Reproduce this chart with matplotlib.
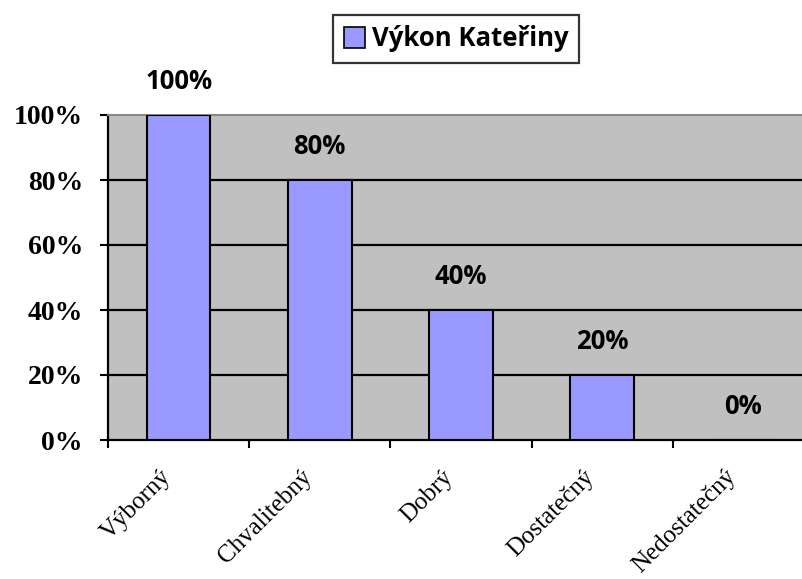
import matplotlib
matplotlib.use("Agg")
import matplotlib.pyplot as plt
from matplotlib.patches import Patch

categories = ["Výborný", "Chvalitebný", "Dobrý", "Dostatečný", "Nedostatečný"]
values = [1.0, 0.8, 0.4, 0.2, 0.0]
value_labels = ["100%", "80%", "40%", "20%", "0%"]
yticks = [0.0, 0.2, 0.4, 0.6, 0.8, 1.0]
ytick_labels = ["0%", "20%", "40%", "60%", "80%", "100%"]
series_name = "Výkon Kateřiny"

fig = plt.figure(figsize=(8.03, 5.79), dpi=100)
ax = fig.add_axes([108/803, 139/579, 706/803, 325/579])
ax.set_facecolor("#C0C0C0")

x = list(range(len(categories)))
ax.bar(x, values, width=0.45, color="#9999FF", edgecolor="black", linewidth=1.5, zorder=3)

ax.set_xlim(-0.5, len(categories) - 0.5)
ax.set_ylim(0, 1.0)

for yv in yticks[1:-1]:
    ax.axhline(yv, color="black", linewidth=1.6, zorder=1)

ax.spines["top"].set_color("#888888")
ax.spines["top"].set_linewidth(1.5)
ax.spines["right"].set_visible(False)
ax.spines["left"].set_linewidth(1.6)
ax.spines["bottom"].set_linewidth(1.6)

ax.set_yticks(yticks)
ax.set_yticklabels(ytick_labels)
for t in ax.get_yticklabels():
    t.set_family("Liberation Serif")
    t.set_weight("bold")
    t.set_fontsize(20)
ax.tick_params(axis="y", length=6, width=1.5, pad=12)

# category boundary ticks
ax.set_xticks([i - 0.5 for i in range(len(categories) + 1)])
ax.set_xticklabels([])
ax.tick_params(axis="x", length=6, width=1.5)

for i, c in enumerate(categories):
    ax.annotate(c, xy=(i, 0), xycoords=("data", "axes fraction"),
                xytext=(-13.5, -18.5), textcoords="offset points",
                rotation=45, ha="right", va="top", rotation_mode="anchor",
                family="Liberation Serif", fontsize=18)

for i, (v, lab) in enumerate(zip(values, value_labels)):
    ax.annotate(lab, xy=(i, v), xytext=(0, 19), textcoords="offset points",
                ha="center", va="baseline", family="Open Sans",
                fontweight="bold", fontsize=18.5, annotation_clip=False)

leg = fig.legend(handles=[Patch(facecolor="#9999FF", edgecolor="black", linewidth=1.2)],
                 labels=[series_name], loc="center", bbox_to_anchor=(456/803, 1 - 39/579),
                 frameon=True, fancybox=False, handlelength=0.85, handleheight=0.85,
                 handletextpad=0.25, borderpad=0.42, borderaxespad=0,
                 prop={"family": "Open Sans", "weight": "bold", "size": 18.5})
leg.get_frame().set_edgecolor("black")
leg.get_frame().set_linewidth(1.6)

fig.savefig("out.png", dpi=100)
